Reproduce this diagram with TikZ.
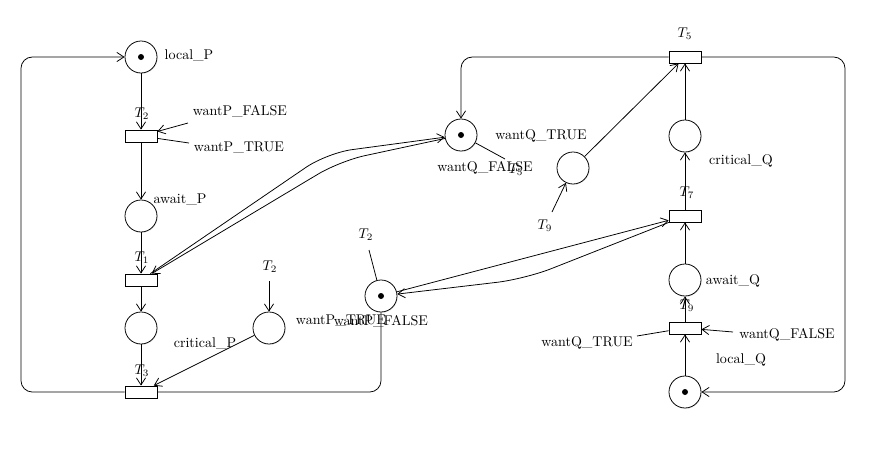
\documentclass[tikz,border=0pt]{standalone}
\usepackage{amsmath}
\usepackage{tikz}
\usetikzlibrary{petri,arrows.meta,shadows}

\begin{document}
\begin{tikzpicture}[
		line width=0.55pt,
		>={Straight Barb[length=5pt,width=6.5pt]},
		every place/.style={draw, line width=0.55pt, minimum size=8mm, fill=white,
			drop shadow={opacity=0.15, shadow xshift=0.6pt, shadow yshift=-0.6pt}},
		every transition/.style={draw, line width=0.55pt, fill=white, minimum width=8mm, minimum height=3mm, inner sep=0pt,
			drop shadow={opacity=0.15, shadow xshift=0.6pt, shadow yshift=-0.6pt}},
		every token/.style={minimum size=1.5mm},
		lbl/.style={inner sep=1pt},
		loop/.style={rounded corners=8pt}
	]
		
			\useasboundingbox (0,0) rectangle (22.125,-11.275);
			
			% places
			\node[place,tokens=1] (localP) at (3.525,-1.425) {};
			\node[place] (awaitP) at (3.525,-5.4) {};
			\node[place] (critP) at (3.525,-8.2) {};
			\node[place] (auxP) at (6.725,-8.2) {};
			\node[place,tokens=1] (wantP) at (9.525,-7.4) {};
			\node[place,tokens=1] (wantQ) at (11.525,-3.375) {};
			\node[place] (auxQ) at (14.325,-4.2) {};
			\node[place] (critQ) at (17.125,-3.4) {};
			\node[place] (awaitQ) at (17.125,-7.0) {};
			\node[place,tokens=1] (localQ) at (17.125,-9.8) {};
			
			% transitions
			\node[transition] (t2) at (3.525,-3.4) {};
			\node[transition] (t1) at (3.525,-7.0) {};
			\node[transition] (t3) at (3.525,-9.8) {};
			\node[transition] (t5) at (17.125,-1.425) {};
			\node[transition] (t7) at (17.125,-5.4) {};
			\node[transition] (t9) at (17.125,-8.2) {};
			
			% labels
			\node[lbl] (lLocalP) at (4.725,-1.4) {local\_P};
			\node[lbl] (lT2) at (3.55,-2.85) {$T_2$};
			\node[lbl] (lPF) at (6.0,-2.775) {wantP\_FALSE};
			\node[lbl] (lPT) at (5.975,-3.7) {wantP\_TRUE};
			\node[lbl] (lAwaitP) at (4.5,-5.0) {await\_P};
			\node[lbl] (lT1) at (3.55,-6.45) {$T_1$};
			\node[lbl] (lT3) at (3.55,-9.275) {$T_3$};
			\node[lbl] (lCritP) at (5.125,-8.6) {critical\_P};
			\node[lbl] (lT2b) at (6.75,-6.675) {$T_2$};
			\node[lbl] (lT2c) at (9.15,-5.875) {$T_2$};
			\node[lbl] (lWantPT) at (8.525,-8.025) {wantP\_TRUE};
			\node[lbl] (lWantPF) at (9.525,-8.025) {wantP\_FALSE};
			\node[lbl] (lWantQF) at (12.125,-4.2) {wantQ\_FALSE};
			\node[lbl] (lT5b) at (12.9,-4.25) {$T_5$};
			\node[lbl] (lWantQT) at (13.525,-3.4) {wantQ\_TRUE};
			\node[lbl] (lT9b) at (13.625,-5.65) {$T_9$};
			\node[lbl] (lT5) at (17.125,-0.85) {$T_5$};
			\node[lbl] (lCritQ) at (18.525,-4.025) {critical\_Q};
			\node[lbl] (lT7) at (17.175,-4.825) {$T_7$};
			\node[lbl] (lAwaitQ) at (18.325,-7.025) {await\_Q};
			\node[lbl] (lT9) at (17.175,-7.65) {$T_9$};
			\node[lbl] (lQT) at (14.675,-8.575) {wantQ\_TRUE};
			\node[lbl] (lQF) at (19.675,-8.375) {wantQ\_FALSE};
			\node[lbl] (lLocalQ) at (18.525,-9.0) {local\_Q};
			
			% free ends
			\coordinate (pF) at (4.7,-3.075);
			\coordinate (pT) at (4.725,-3.575);
			\coordinate (p2a) at (6.725,-7.025);
			\coordinate (p2b) at (9.225,-6.25);
			\coordinate (q5) at (12.625,-3.975);
			\coordinate (q9) at (13.8,-5.3);
			\coordinate (qT) at (15.925,-8.4);
			\coordinate (qF) at (18.325,-8.3);
			
			% process P
			\draw[->] (localP) -- (t2);
			\draw[->] (t2) -- (awaitP);
			\draw[->] (awaitP) -- (t1);
			\draw[->] (t1) -- (critP);
			\draw[->] (critP) -- (t3);
			\draw[->,loop] (t3) -- ++(-3,0) |- (localP);
			\draw[loop] (t3) -| (wantP);
			\draw[->] (auxP) -- (t3);
			\draw[->] (pF) -- (t2);
			\draw (t2) -- (pT);
			\draw[->] (p2a) -- (auxP);
			\draw (p2b) -- (wantP);
			
			% process Q
			\draw[->] (localQ) -- (t9);
			\draw[->] (t9) -- (awaitQ);
			\draw[->] (awaitQ) -- (t7);
			\draw[->] (t7) -- (critQ);
			\draw[->] (critQ) -- (t5);
			\draw[->,loop] (t5) -| (wantQ);
			\draw[->,loop] (t5) -- ++(4,0) |- (localQ);
			\draw[->] (auxQ) -- (t5);
			\draw[->] (qF) -- (t9);
			\draw (t9) -- (qT);
			\draw[->] (q9) -- (auxQ);
			\draw (wantQ) -- (q5);
			
			% tests
			\draw[->,rounded corners=18pt] (t1) -- (8.175,-3.825) -- (wantQ);
			\draw[->,rounded corners=18pt] (wantQ) -- (8.5,-4.025) -- (t1);
			\draw[->] (wantP) -- (t7);
			\draw[->,rounded corners=20pt] (t7) -- (13.125,-6.975) -- (wantP);
			
		\end{tikzpicture}
\end{document}
